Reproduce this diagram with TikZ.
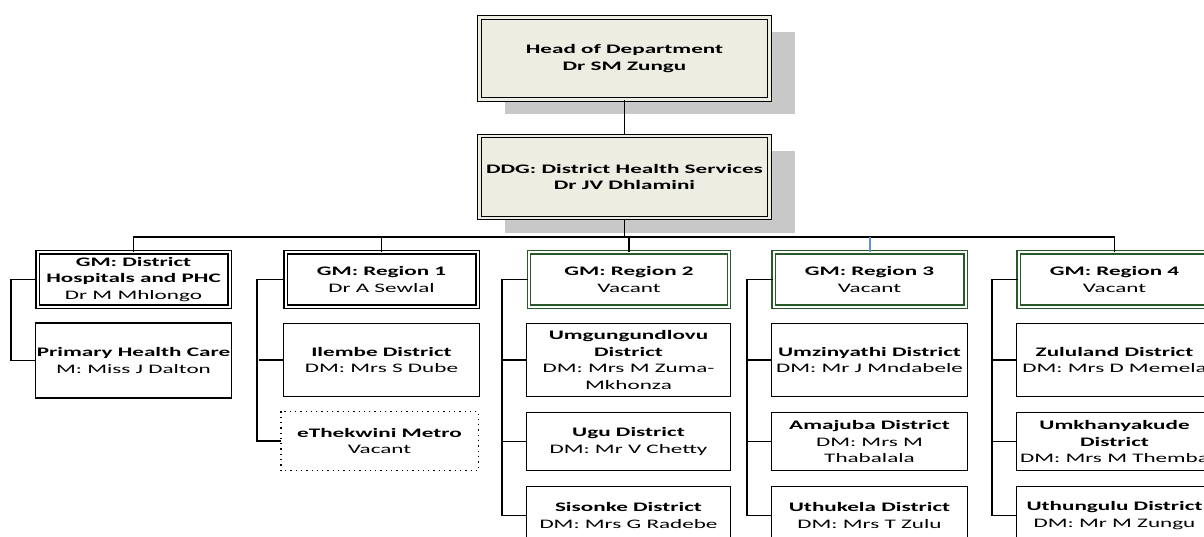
\documentclass[tikz,border=0pt]{standalone}
\usepackage{fontspec}
\setmainfont{Carlito}[FakeStretch=1.78]
\usetikzlibrary{shadows}
\definecolor{boxfill}{RGB}{237,237,225}
\definecolor{shadowgray}{RGB}{200,200,200}
\definecolor{gmgreen}{RGB}{38,88,40}
\definecolor{linkblue}{RGB}{98,146,208}
\tikzset{
  unit/.style={draw, line width=1.4pt, minimum width=196pt, align=center, inner sep=0pt,
    font=\fontsize{13}{16.5}\selectfont},
  topbox/.style={unit, fill=boxfill, double=boxfill, double distance=2.2pt, line width=1.3pt,
    minimum width=290pt, minimum height=82pt,
    drop shadow={shadow xshift=25pt, shadow yshift=-15pt, fill=shadowgray, opacity=1}},
  gmbox/.style={unit, double=white, double distance=2pt, line width=1.2pt,
    minimum width=192pt, minimum height=54pt},
  greenbox/.style={gmbox, draw=gmgreen},
  distbox/.style={unit, minimum height=58pt},
  tallbox/.style={distbox, minimum height=73pt},
  vacantbox/.style={distbox, draw=none},
  link/.style={line width=1.7pt},
}
\begin{document}
\begin{tikzpicture}[x=1pt, y=-1pt]
  \useasboundingbox (0,0) rectangle (1204,537);
  \clip (0,0) rectangle (1204,537);
  % top of the chart
  \node[topbox] (hod) at (624.5,58.5) {\textbf{Head of Department}\\\textbf{Dr SM Zungu}};
  \node[topbox] (ddg) at (624.5,177) {\textbf{DDG: District Health Services}\\\textbf{Dr JV Dhlamini}};
  \coordinate (bus) at (624.5,237);
  % general managers
  \node[gmbox] (gm0) at (133.5,279.5) {\textbf{GM: District}\\\textbf{Hospitals and PHC}\\Dr M Mhlongo};
  \node[gmbox] (gm1) at (381.5,279.5) {\textbf{GM: Region 1}\\Dr A Sewlal};
  \node[greenbox, minimum width=200pt] (gm2) at (629,279.5) {\textbf{GM: Region 2}\\Vacant};
  \node[greenbox] (gm3) at (869.5,279.5) {\textbf{GM: Region 3}\\Vacant};
  \node[greenbox] (gm4) at (1114.5,279.5) {\textbf{GM: Region 4}\\Vacant};
  % districts
  \node[tallbox, minimum height=75pt] (phc) at (133.5,360.5) {\textbf{Primary Health Care}\\M: Miss J Dalton};
  \node[tallbox] (ilembe) at (381.5,360) {\textbf{Ilembe District}\\DM: Mrs S Dube};
  \node[vacantbox] (ethekwini) at (379.5,441) {\textbf{eThekwini Metro}\\Vacant};
  \draw[line width=1.4pt, dash pattern=on 1.3pt off 4pt]
    (ethekwini.north west) rectangle (ethekwini.south east);
  \node[tallbox, minimum width=204pt] (umgungundlovu) at (628.5,360)
    {\textbf{Umgungundlovu}\\\textbf{District}\\DM: Mrs M Zuma-\\Mkhonza};
  \node[distbox, minimum width=204pt] (ugu) at (628.5,441.5) {\textbf{Ugu District}\\DM: Mr V Chetty};
  \node[distbox, minimum width=204pt] (sisonke) at (628.5,515.5) {\textbf{Sisonke District}\\DM: Mrs G Radebe};
  \node[tallbox] (umzinyathi) at (869.5,360) {\textbf{Umzinyathi District}\\DM: Mr J Mndabele};
  \node[distbox] (amajuba) at (869.5,441.5) {\textbf{Amajuba District}\\DM: Mrs M\\Thabalala};
  \node[distbox] (uthukela) at (869.5,515.5) {\textbf{Uthukela District}\\DM: Mrs T Zulu};
  \node[tallbox] (zululand) at (1114.5,360) {\textbf{Zululand District}\\DM: Mrs D Memela};
  \node[distbox] (umkhanyakude) at (1114.5,441.5) {\textbf{Umkhanyakude}\\\textbf{District}\\DM: Mrs M Themba};
  \node[distbox] (uthungulu) at (1114.5,515.5) {\textbf{Uthungulu District}\\DM: Mr M Zungu};
  % connectors
  \draw[link] (hod) -- (ddg);
  \draw[link] (ddg) -- (bus);
  \draw[link] (gm0.north) -- (gm0.north |- bus) -- (gm4.north |- bus) -- (gm4.north);
  \foreach \gm in {gm1, gm2}
    \draw[link] (\gm.north) -- (\gm.north |- bus);
  \draw[link, linkblue, line width=2pt] (gm3.north) -- (gm3.north |- bus);
  \foreach \gm/\last in {gm0/phc, gm1/ethekwini, gm2/sisonke, gm3/uthukela, gm4/uthungulu}
    \draw[link] (\gm.west) -| ([xshift=-24pt]\last.west) -- (\last.west);
  \foreach \mid in {ilembe, umgungundlovu, ugu, umzinyathi, amajuba, zululand, umkhanyakude}
    \draw[link] (\mid.west) -- ++(-24,0);
\end{tikzpicture}
\end{document}
